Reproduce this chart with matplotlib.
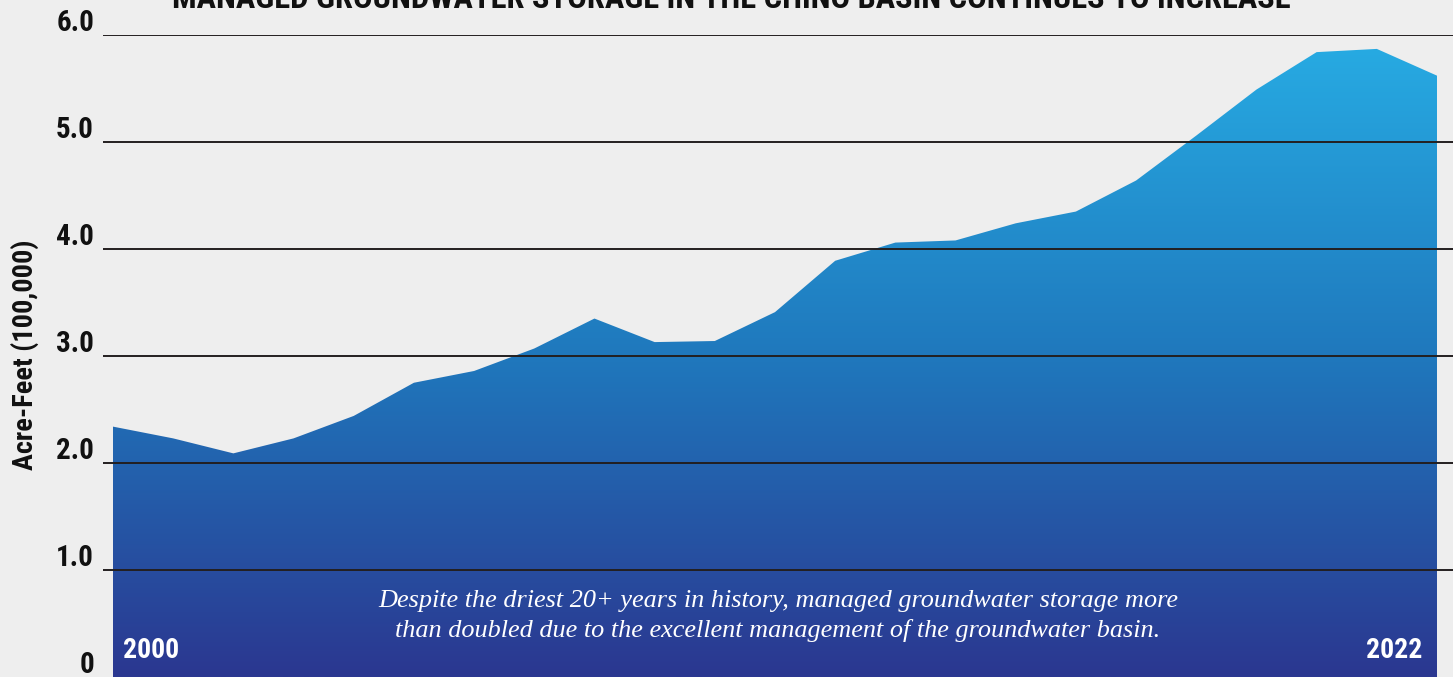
import numpy as np
import matplotlib
matplotlib.use('Agg')
import matplotlib.pyplot as plt
from matplotlib.colors import LinearSegmentedColormap
from matplotlib.patches import Polygon
from matplotlib import font_manager as fm
import matplotlib.transforms as mtransforms

years = list(range(2000, 2023))
storage = [2.34, 2.23, 2.09, 2.23, 2.44, 2.75, 2.86, 3.07, 3.35, 3.13, 3.14, 3.41,
           3.89, 4.06, 4.08, 4.24, 4.35, 4.64, 5.06, 5.49, 5.84, 5.87, 5.62]
ytick_values = [0, 1, 2, 3, 4, 5, 6]
ytick_labels = ['0', '1.0', '2.0', '3.0', '4.0', '5.0', '6.0']
title = "MANAGED GROUNDWATER STORAGE IN THE CHINO BASIN CONTINUES TO INCREASE"
ylabel = "Acre-Feet (100,000)"
note = ("Despite the driest 20+ years in history, managed groundwater storage more\n"
        "than doubled due to the excellent management of the groundwater basin.")
start_label, end_label = "2000", "2022"

names = {f.name for f in fm.fontManager.ttflist}
cond = 'DejaVu Sans'
for cand in ['Roboto Condensed', 'Liberation Sans Narrow', 'Open Sans Condensed',
             'Roboto', 'Lato']:
    if cand in names:
        cond = cand
        break
serif = 'Liberation Serif'

W, H = 1453, 677
fig = plt.figure(figsize=(W / 100, H / 100), dpi=100)
fig.patch.set_facecolor('#EEEEEE')
ax = fig.add_axes([103 / W, 0, 1 - 103 / W, 1 - 35 / H])
ax.set_facecolor('none')
px = 60.18
ax.set_xlim(years[0] - 10 / px, years[-1] + 16 / px)
ax.set_ylim(0, 6)
for s in ax.spines.values():
    s.set_visible(False)
ax.set_xticks([])
ax.set_yticks([])

x = np.array(years, float)
y = np.array(storage)
verts = [(x[0], 0)] + list(zip(x, y)) + [(x[-1], 0)]
poly = Polygon(verts, closed=True, facecolor='none', edgecolor='none')
ax.add_patch(poly)
cmap = LinearSegmentedColormap.from_list('g', [(0, '#2B3790'), (0.5, '#1F77BC'), (1, '#27AAE2')])
grad = np.linspace(0, 1, 256).reshape(-1, 1)
im = ax.imshow(grad, extent=[x[0], x[-1], 0, y.max()], origin='lower', aspect='auto',
               cmap=cmap, zorder=1, interpolation='bilinear')
im.set_clip_path(poly)

for v in ytick_values[1:]:
    ax.axhline(v, color='#231F20', lw=1.4, zorder=3)

renderer = fig.canvas.get_renderer()


def fit(t, target, horizontal=True):
    bb = t.get_window_extent(renderer)
    size = bb.width if horizontal else bb.height
    t.set_fontsize(t.get_fontsize() * target / size)


tr = mtransforms.blended_transform_factory(fig.transFigure, ax.transData)
off = mtransforms.ScaledTranslation(0, 12 / 100, fig.dpi_scale_trans)
for v, lab in zip(ytick_values, ytick_labels):
    fig.text(94 / W, v, lab, transform=tr + off, ha='right', va='center',
             fontsize=21, fontweight='bold', family=cond, color='#111111')

yl = fig.text(25 / W, 1 - 355 / H, ylabel, rotation=90, ha='center', va='center',
              fontsize=19, fontweight='bold', family=cond, color='#111111')
fit(yl, 230, horizontal=False)

tt = fig.text(731 / W, 1 - 8 / H, title, ha='center', va='baseline',
              fontsize=27, fontweight='bold', family=cond, color='#111111')
fit(tt, 1118)

ax.annotate(start_label, xy=(years[0], 0), xytext=(10, 27), textcoords='offset pixels',
            ha='left', va='center', fontsize=20, fontweight='bold', family=cond,
            color='white', zorder=5)
ax.annotate(end_label, xy=(years[-1], 0), xytext=(-15, 27), textcoords='offset pixels',
            ha='right', va='center', fontsize=20, fontweight='bold', family=cond,
            color='white', zorder=5)

trn = mtransforms.blended_transform_factory(ax.transAxes, ax.transData)
nt = ax.text(0.5, 0.57, note, transform=trn, ha='center', va='center', fontsize=18,
             style='italic', family=serif, color='white', linespacing=1.35, zorder=5)
fit(nt, 800)

fig.savefig('out.png', dpi=100, facecolor=fig.get_facecolor())
